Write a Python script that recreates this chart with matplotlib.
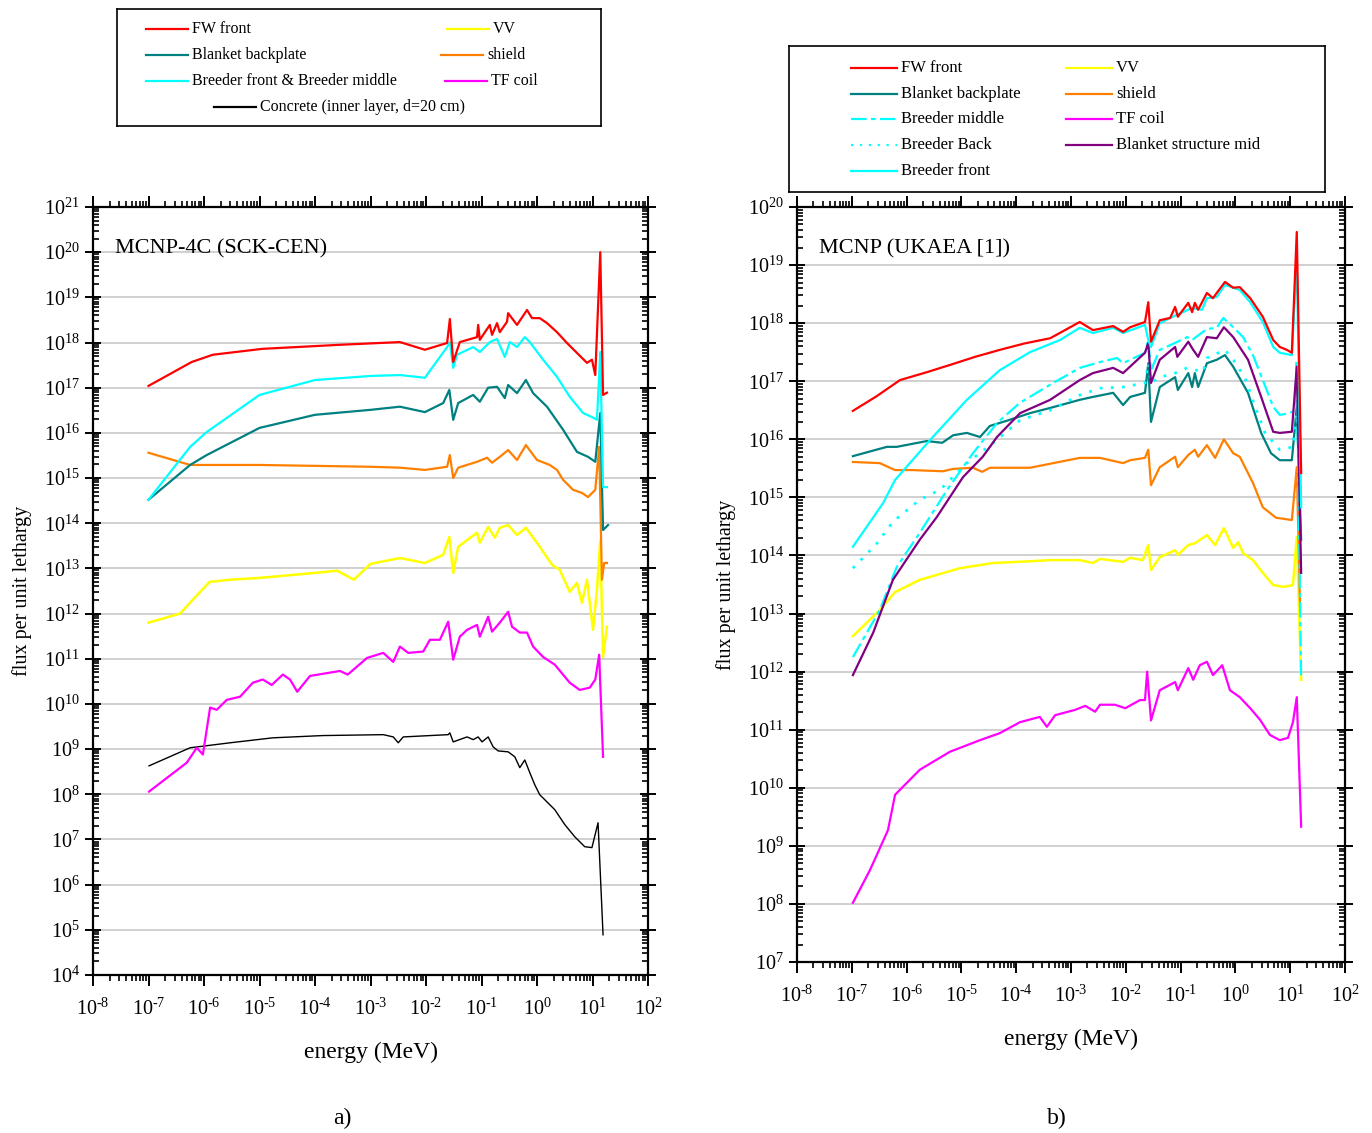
import numpy as np
import matplotlib
matplotlib.use("Agg")
import matplotlib.pyplot as plt
from matplotlib.ticker import LogLocator, NullFormatter, FuncFormatter

plt.rcParams['font.family'] = ['Liberation Serif', 'DejaVu Serif']
plt.rcParams['mathtext.fontset'] = 'custom'
plt.rcParams['mathtext.rm'] = 'Liberation Serif'
plt.rcParams['mathtext.default'] = 'regular'
plt.rcParams['axes.unicode_minus'] = False

# ---- data as log10(E / MeV), log10(flux) ----
# panel a) MCNP-4C (SCK-CEN)
a_fw_x = [-7.0, -6.22, -5.84, -4.95, -3.55, -2.47, -2.02, -1.62, -1.57, -1.51, -1.39, -1.08, -1.06, -1.03, -0.85, -0.81, -0.72, -0.67,
          -0.54, -0.52, -0.36, -0.18, -0.09, 0.05, 0.18, 0.36, 0.54, 0.72, 0.90, 0.99, 1.05, 1.14, 1.19, 1.26]
a_fw_y = [17.04, 17.57, 17.73, 17.86, 17.95, 18.01, 17.84, 17.99, 18.52, 17.57, 18.01, 18.12, 18.39, 18.06, 18.39, 18.17, 18.43, 18.23,
          18.46, 18.65, 18.39, 18.72, 18.54, 18.54, 18.43, 18.23, 17.99, 17.77, 17.55, 17.62, 17.28, 20.0, 16.84, 16.89]

a_br_x = [-7.0, -6.25, -5.95, -5.0, -4.0, -3.0, -2.47, -2.02, -1.62, -1.57, -1.51, -1.44, -1.15, -1.03, -0.85, -0.72, -0.58, -0.49,
          -0.36, -0.22, -0.13, 0.11, 0.36, 0.59, 0.83, 0.99, 1.08, 1.14, 1.19, 1.26]
a_br_y = [14.52, 15.69, 16.02, 16.84, 17.17, 17.26, 17.28, 17.22, 17.9, 18.01, 17.44, 17.73, 17.9, 17.79, 18.01, 18.08, 17.68, 18.01,
          17.9, 18.12, 18.01, 17.62, 17.24, 16.8, 16.44, 16.35, 16.29, 17.79, 14.8, 14.8]

a_bp_x = [-7.0, -6.25, -5.95, -5.0, -4.0, -3.0, -2.47, -2.02, -1.69, -1.58, -1.51, -1.42, -1.15, -1.03, -0.88, -0.72, -0.58, -0.52,
          -0.36, -0.20, -0.07, 0.18, 0.47, 0.72, 0.92, 1.05, 1.14, 1.19, 1.28]
a_bp_y = [14.52, 15.29, 15.51, 16.11, 16.40, 16.51, 16.58, 16.46, 16.66, 16.95, 16.29, 16.66, 16.84, 16.69, 17.0, 17.02, 16.77, 17.06,
          16.88, 17.17, 16.88, 16.58, 16.07, 15.58, 15.47, 15.36, 16.44, 13.85, 13.96]

a_sh_x = [-7.0, -6.25, -5.0, -3.0, -2.47, -2.02, -1.62, -1.57, -1.51, -1.42, -1.08, -0.90, -0.81, -0.67, -0.52, -0.36, -0.20, 0.00,
          0.23, 0.36, 0.47, 0.65, 0.81, 0.92, 1.05, 1.12, 1.17, 1.21, 1.26]
a_sh_y = [15.56, 15.29, 15.29, 15.25, 15.23, 15.18, 15.25, 15.51, 15.0, 15.23, 15.36, 15.45, 15.34, 15.47, 15.62, 15.4, 15.73, 15.4,
          15.29, 15.18, 14.96, 14.74, 14.67, 14.58, 14.74, 15.69, 12.75, 13.12, 13.12]

a_vv_x = [-7.0, -6.43, -6.2, -5.9, -5.53, -5.0, -4.0, -3.6, -3.3, -3.0, -2.47, -2.02, -1.69, -1.58, -1.51, -1.42, -1.08, -1.03,
          -0.88, -0.76, -0.67, -0.52, -0.36, -0.20, 0.05, 0.27, 0.41, 0.59, 0.72, 0.81, 0.90, 1.01, 1.08, 1.14, 1.19, 1.26]
a_vv_y = [11.80, 12.0, 12.31, 12.70, 12.75, 12.79, 12.90, 12.95, 12.75, 13.1, 13.23, 13.12, 13.3, 13.7, 12.9, 13.48, 13.79, 13.57,
          13.92, 13.68, 13.9, 13.96, 13.74, 13.9, 13.48, 13.08, 12.97, 12.48, 12.68, 12.24, 12.75, 11.64, 12.53, 13.63, 11.04, 11.71]

a_tf_x = [-6.99, -6.31, -6.13, -6.02, -5.89, -5.77, -5.59, -5.35, -5.12, -4.94, -4.78, -4.58, -4.45, -4.32, -4.09, -3.55, -3.41,
          -3.06, -2.77, -2.59, -2.47, -2.32, -2.05, -1.93, -1.75, -1.60, -1.51, -1.39, -1.26, -1.08, -1.03, -0.88, -0.81, -0.67,
          -0.52, -0.45, -0.31, -0.18, -0.07, 0.11, 0.32, 0.59, 0.77, 0.95, 1.05, 1.12, 1.19]
a_tf_y = [8.06, 8.70, 9.03, 8.88, 9.92, 9.87, 10.09, 10.16, 10.47, 10.54, 10.42, 10.65, 10.54, 10.27, 10.62, 10.73, 10.65,
          11.02, 11.13, 10.93, 11.27, 11.13, 11.16, 11.42, 11.42, 11.82, 10.98, 11.49, 11.64, 11.75, 11.49, 11.93, 11.6, 11.8,
          12.04, 11.71, 11.58, 11.58, 11.27, 11.04, 10.87, 10.47, 10.31, 10.36, 10.54, 11.09, 8.83]

a_cc_x = [-6.99, -6.25, -5.53, -4.76, -3.86, -2.77, -2.59, -2.50, -2.41, -1.60, -1.57, -1.51, -1.26, -1.15, -1.06, -0.99, -0.88,
          -0.79, -0.70, -0.52, -0.40, -0.31, -0.22, -0.13, -0.04, 0.05, 0.14, 0.32, 0.50, 0.68, 0.86, 0.99, 1.10, 1.19]
a_cc_y = [8.63, 9.03, 9.14, 9.25, 9.30, 9.32, 9.27, 9.14, 9.27, 9.32, 9.36, 9.16, 9.27, 9.21, 9.27, 9.16, 9.27,
          9.05, 8.96, 8.94, 8.83, 8.59, 8.76, 8.48, 8.21, 7.99, 7.88, 7.66, 7.33, 7.06, 6.84, 6.82, 7.37, 4.89]

# panel b) MCNP (UKAEA [1])
b_fw_x = [-6.98, -6.55, -6.12, -5.65, -5.21, -4.75, -4.30, -3.85, -3.38, -2.84, -2.60, -2.23, -2.05, -1.92, -1.65, -1.59, -1.54,
          -1.38, -1.19, -1.10, -1.05, -0.86, -0.79, -0.74, -0.68, -0.52, -0.41, -0.34, -0.19, -0.04, 0.08, 0.27, 0.50, 0.69,
          0.81, 0.94, 1.03, 1.12, 1.20]
b_fw_y = [16.49, 16.74, 17.02, 17.15, 17.28, 17.42, 17.54, 17.65, 17.74, 18.02, 17.88, 17.95, 17.85, 17.93, 18.02, 18.36, 17.68,
          18.05, 18.09, 18.28, 18.11, 18.35, 18.19, 18.35, 18.23, 18.52, 18.43, 18.52, 18.71, 18.61, 18.62, 18.43, 18.11, 17.71,
          17.59, 17.54, 17.49, 19.57, 15.42]

b_bf_x = [-6.98, -6.43, -6.21, -5.57, -4.90, -4.30, -3.75, -3.20, -2.84, -2.60, -2.23, -2.05, -1.65, -1.59, -1.54, -1.38, -1.08,
          -0.79, -0.61, -0.52, -0.34, -0.19, 0.08, 0.27, 0.50, 0.69, 0.81, 1.03, 1.12, 1.20]
b_bf_y = [14.15, 14.90, 15.30, 15.99, 16.68, 17.19, 17.50, 17.71, 17.92, 17.83, 17.92, 17.83, 17.97, 17.71, 17.59, 18.0, 18.14,
          18.26, 18.23, 18.43, 18.45, 18.66, 18.57, 18.36, 18.02, 17.59, 17.49, 17.45, 19.09, 14.83]

b_bm_x = [-6.98, -6.49, -6.18, -5.76, -5.26, -4.79, -4.35, -3.93, -3.38, -2.84, -2.47, -2.16, -2.05, -1.92, -1.65, -1.59, -1.54,
          -1.38, -1.10, -0.88, -0.79, -0.52, -0.34, -0.22, -0.04, 0.14, 0.32, 0.50, 0.69, 0.81, 0.99, 1.08, 1.12, 1.20]
b_bm_y = [12.25, 13.06, 13.80, 14.39, 15.13, 15.76, 16.28, 16.63, 16.94, 17.23, 17.33, 17.40, 17.31, 17.37, 17.49, 17.71, 17.19,
          17.54, 17.66, 17.76, 17.71, 17.90, 17.92, 18.09, 17.93, 17.76, 17.45, 17.02, 16.56, 16.42, 16.45, 16.5, 17.37, 11.86]

b_bb_x = [-6.98, -6.54, -6.25, -5.76, -5.39, -4.90, -4.35, -3.93, -3.38, -2.84, -2.47, -2.05, -1.65, -1.59, -1.54, -1.38, -1.10,
          -0.88, -0.59, -0.52, -0.19, 0.01, 0.19, 0.36, 0.54, 0.81, 1.05, 1.12, 1.20]
b_bb_y = [13.78, 14.21, 14.58, 14.96, 15.13, 15.59, 15.99, 16.33, 16.50, 16.76, 16.88, 16.90, 16.97, 17.31, 16.97, 17.07, 17.14,
          17.23, 17.16, 17.40, 17.54, 17.31, 17.02, 16.56, 16.11, 15.82, 15.87, 16.45, 14.83]

b_bs_x = [-6.98, -6.61, -6.25, -5.76, -5.45, -4.97, -4.61, -4.35, -3.93, -3.38, -2.84, -2.60, -2.23, -2.05, -1.65, -1.59, -1.54,
          -1.38, -1.10, -1.06, -0.86, -0.77, -0.68, -0.52, -0.34, -0.21, -0.04, 0.23, 0.47, 0.69, 0.81, 1.03, 1.12, 1.20]
b_bs_y = [11.94, 12.67, 13.58, 14.27, 14.66, 15.35, 15.70, 16.04, 16.45, 16.68, 17.02, 17.14, 17.23, 17.14, 17.49, 17.66, 16.97,
          17.37, 17.59, 17.42, 17.68, 17.54, 17.42, 17.76, 17.74, 17.93, 17.76, 17.37, 16.73, 16.13, 16.11, 16.13, 17.25, 13.70]

b_bp_x = [-6.98, -6.36, -6.18, -5.63, -5.35, -5.15, -4.90, -4.66, -4.48, -4.17, -3.75, -3.38, -2.84, -2.60, -2.23, -2.05, -1.92,
          -1.65, -1.59, -1.54, -1.38, -1.10, -1.05, -0.86, -0.79, -0.74, -0.68, -0.52, -0.34, -0.19, -0.04, 0.23, 0.47, 0.65,
          0.81, 1.03, 1.12, 1.20]
b_bp_y = [15.71, 15.87, 15.87, 15.97, 15.94, 16.07, 16.11, 16.04, 16.23, 16.32, 16.45, 16.54, 16.68, 16.73, 16.80, 16.59, 16.73,
          16.80, 17.31, 16.30, 16.90, 17.07, 16.85, 17.14, 16.90, 17.14, 16.90, 17.31, 17.37, 17.45, 17.25, 16.80, 16.11, 15.76,
          15.64, 15.64, 16.56, 14.27]

b_sh_x = [-6.98, -6.49, -6.21, -5.89, -5.34, -5.15, -4.79, -4.62, -4.48, -3.75, -2.84, -2.47, -2.05, -1.92, -1.65, -1.59, -1.54,
          -1.38, -1.10, -1.05, -0.86, -0.74, -0.68, -0.52, -0.37, -0.21, -0.04, 0.08, 0.32, 0.50, 0.74, 1.03, 1.12, 1.18]
b_sh_y = [15.61, 15.59, 15.47, 15.47, 15.45, 15.49, 15.51, 15.44, 15.51, 15.51, 15.68, 15.68, 15.59, 15.64, 15.68, 15.82, 15.21,
          15.52, 15.70, 15.52, 15.73, 15.82, 15.70, 15.90, 15.68, 16.0, 15.76, 15.70, 15.25, 14.83, 14.65, 14.61, 15.52, 13.11]

b_vv_x = [-6.98, -6.49, -6.21, -5.76, -5.03, -4.42, -3.75, -3.38, -2.84, -2.60, -2.47, -2.05, -1.92, -1.69, -1.59, -1.54, -1.38,
          -1.10, -1.05, -0.86, -0.74, -0.52, -0.37, -0.21, -0.04, 0.05, 0.14, 0.32, 0.50, 0.69, 0.87, 1.05, 1.12, 1.20]
b_vv_y = [12.61, 13.06, 13.37, 13.58, 13.78, 13.87, 13.90, 13.92, 13.92, 13.87, 13.94, 13.89, 13.96, 13.92, 14.18, 13.75, 13.97,
          14.09, 14.01, 14.18, 14.21, 14.35, 14.18, 14.47, 14.13, 14.23, 14.04, 13.92, 13.70, 13.49, 13.46, 13.49, 14.32, 11.86]

b_tf_x = [-6.98, -6.67, -6.34, -6.21, -5.76, -5.21, -4.66, -4.30, -3.93, -3.57, -3.44, -3.29, -2.93, -2.74, -2.56, -2.47, -2.20,
          -2.01, -1.74, -1.65, -1.61, -1.54, -1.38, -1.10, -1.05, -0.86, -0.77, -0.65, -0.52, -0.41, -0.24, -0.10, 0.08, 0.27,
          0.45, 0.63, 0.81, 0.96, 1.05, 1.12, 1.20]
b_tf_y = [8.02, 8.58, 9.27, 9.88, 10.31, 10.62, 10.82, 10.94, 11.13, 11.22, 11.05, 11.25, 11.34, 11.41, 11.31, 11.43, 11.43,
          11.37, 11.51, 11.51, 12.0, 11.16, 11.68, 11.82, 11.68, 12.06, 11.86, 12.11, 12.17, 11.94, 12.11, 11.68, 11.56, 11.37,
          11.17, 10.91, 10.82, 10.86, 11.13, 11.56, 9.33]


def p(x, y):
    return 10.0 ** np.array(x), 10.0 ** np.array(y)


def pow_label(v, pos):
    # hyphen instead of the long mathtext minus, as in the original figure
    e = int(round(np.log10(v)))
    s = str(e).replace('-', '\u2010')
    return '$10^{' + s + '}$'


def style_axes(ax, ymin, ymax):
    ax.set_xscale('log')
    ax.set_yscale('log')
    ax.set_xlim(1e-8, 1e2)
    ax.set_ylim(10.0 ** ymin, 10.0 ** ymax)
    ax.xaxis.set_major_locator(LogLocator(base=10, numticks=20))
    ax.yaxis.set_major_locator(LogLocator(base=10, numticks=30))
    ax.xaxis.set_minor_locator(LogLocator(base=10, subs=np.arange(2, 10), numticks=30))
    ax.yaxis.set_minor_locator(LogLocator(base=10, subs=np.arange(2, 10), numticks=30))
    ax.xaxis.set_major_formatter(FuncFormatter(pow_label))
    ax.yaxis.set_major_formatter(FuncFormatter(pow_label))
    ax.xaxis.set_minor_formatter(NullFormatter())
    ax.yaxis.set_minor_formatter(NullFormatter())
    for s in ax.spines.values():
        s.set_linewidth(1.6)
    ax.tick_params(axis='x', which='major', direction='out', length=8, width=1.4, top=True, labelsize=14.5, pad=9)
    ax.tick_params(axis='x', which='minor', direction='out', length=4, width=1.2, top=True)
    ax.tick_params(axis='y', which='major', direction='inout', length=12, width=1.4, right=True, labelsize=14.5)
    ax.tick_params(axis='y', which='minor', direction='in', length=4, width=1.2, right=True)
    ax.yaxis.grid(True, which='major', color='#c8c8c8', lw=1.2)
    ax.set_axisbelow(True)


def legend_box(fig, box, rows):
    # box given in pixels (left, top, right, bottom) of the 1372x1133 figure
    l, t, r, b = box
    lax = fig.add_axes([l / 1372, 1 - b / 1133, (r - l) / 1372, (b - t) / 1133])
    lax.set_xlim(0, r - l)
    lax.set_ylim(b - t, 0)
    lax.set_xticks([])
    lax.set_yticks([])
    for s in lax.spines.values():
        s.set_linewidth(1.2)
    for x0, x1, y, lab, col, ls, fs in rows:
        lax.plot([x0, x1], [y, y], color=col, lw=1.6, ls=ls)
        lax.text(x1 + 4, y, lab, fontsize=fs, va='center', ha='left')


fig = plt.figure(figsize=(13.72, 11.33), dpi=100)

# ---- panel a ----
ax1 = fig.add_axes([93 / 1372, 1 - 975 / 1133, 555 / 1372, 768 / 1133])
style_axes(ax1, 4, 21)
ax1.plot(*p(a_cc_x, a_cc_y), color='black', lw=1.0)
ax1.plot(*p(a_tf_x, a_tf_y), color='#ff00ff', lw=1.6)
ax1.plot(*p(a_vv_x, a_vv_y), color='#ffff00', lw=1.8)
ax1.plot(*p(a_sh_x, a_sh_y), color='#ff8000', lw=1.6)
ax1.plot(*p(a_bp_x, a_bp_y), color='#008080', lw=1.6)
ax1.plot(*p(a_br_x, a_br_y), color='#00ffff', lw=1.6)
ax1.plot(*p(a_fw_x, a_fw_y), color='#ff0000', lw=1.6)
ax1.text(0.04, 0.945, 'MCNP-4C (SCK-CEN)', transform=ax1.transAxes, fontsize=16, va='center', ha='left')
ax1.set_xlabel('energy (MeV)', fontsize=17, labelpad=16)
ax1.set_ylabel('flux per unit lethargy', fontsize=14.5, labelpad=8)

# ---- panel b ----
ax2 = fig.add_axes([797 / 1372, 1 - 962 / 1133, 548 / 1372, 755 / 1133])
style_axes(ax2, 7, 20)
ax2.plot(*p(b_tf_x, b_tf_y), color='#ff00ff', lw=1.6)
ax2.plot(*p(b_vv_x, b_vv_y), color='#ffff00', lw=1.8)
ax2.plot(*p(b_sh_x, b_sh_y), color='#ff8000', lw=1.6)
ax2.plot(*p(b_bp_x, b_bp_y), color='#008080', lw=1.6)
ax2.plot(*p(b_bb_x, b_bb_y), color='#00ffff', lw=2.0, ls=(0, (1, 3)))
ax2.plot(*p(b_bm_x, b_bm_y), color='#00ffff', lw=1.6, ls=(0, (7, 2, 2, 2)))
ax2.plot(*p(b_bs_x, b_bs_y), color='#800080', lw=1.6)
ax2.plot(*p(b_bf_x, b_bf_y), color='#00ffff', lw=1.6)
ax2.plot(*p(b_fw_x, b_fw_y), color='#ff0000', lw=1.6)
ax2.text(0.04, 0.945, 'MCNP (UKAEA [1])', transform=ax2.transAxes, fontsize=16, va='center', ha='left')
ax2.set_xlabel('energy (MeV)', fontsize=17, labelpad=16)
ax2.set_ylabel('flux per unit lethargy', fontsize=14.5, labelpad=8)

# ---- legends ----
legend_box(fig, (117, 9, 601, 126), [
    (29, 71, 20, 'FW front', '#ff0000', '-', 11.5),
    (29, 71, 46, 'Blanket backplate', '#008080', '-', 11.5),
    (29, 71, 72, 'Breeder front & Breeder middle', '#00ffff', '-', 11.5),
    (330, 372, 20, 'VV', '#ffff00', '-', 11.5),
    (324, 366, 46, 'shield', '#ff8000', '-', 11.5),
    (328, 370, 72, 'TF coil', '#ff00ff', '-', 11.5),
    (97, 139, 98, 'Concrete (inner layer, d=20 cm)', 'black', '-', 11.5),
])
legend_box(fig, (789, 46, 1325, 192), [
    (62, 108, 22, 'FW front', '#ff0000', '-', 12),
    (62, 108, 48, 'Blanket backplate', '#008080', '-', 12),
    (62, 108, 73, 'Breeder middle', '#00ffff', (0, (7, 2, 2, 2)), 12),
    (62, 108, 99, 'Breeder Back', '#00ffff', (0, (1, 3)), 12),
    (62, 108, 125, 'Breeder front', '#00ffff', '-', 12),
    (277, 323, 22, 'VV', '#ffff00', '-', 12),
    (277, 323, 48, 'shield', '#ff8000', '-', 12),
    (277, 323, 73, 'TF coil', '#ff00ff', '-', 12),
    (277, 323, 99, 'Blanket structure mid', '#800080', '-', 12),
])

fig.text(342 / 1372, 1 - 1118 / 1133, 'a)', fontsize=17, ha='center', va='center')
fig.text(1057 / 1372, 1 - 1118 / 1133, 'b)', fontsize=17, ha='center', va='center')

fig.savefig('out.png', dpi=100)
